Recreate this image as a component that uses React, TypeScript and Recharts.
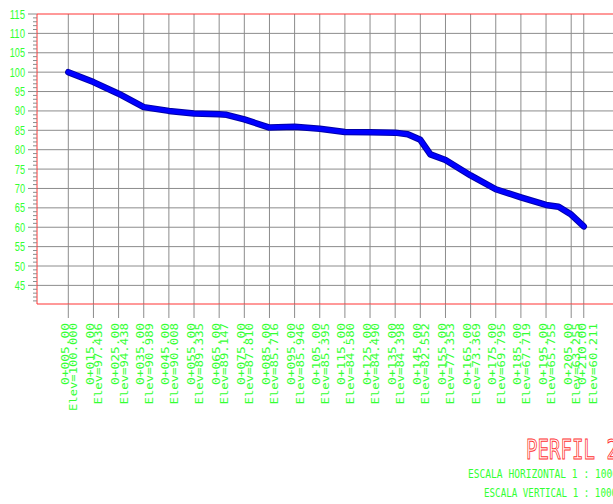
import React from "react";
import { LineChart, Line, XAxis, YAxis, CartesianGrid, ReferenceLine } from "recharts";

// estaciones y cotas rotuladas del perfil
const STATIONS = [5, 15, 25, 35, 45, 55, 65, 75, 85, 95, 105, 115, 125, 135, 145, 155, 165, 175, 185, 195, 205, 210];
const ELEVATIONS = [
  100.0, 97.436, 94.438, 90.989, 90.008, 89.335, 89.147, 87.81, 85.716, 85.946, 85.395,
  84.58, 84.49, 84.398, 82.552, 77.353, 73.369, 69.795, 67.719, 65.755, 63.255, 60.211,
];

// vertices intermedios del terreno (sin rotulo)
const BREAK_STATIONS = [68, 140, 149, 200];
const BREAK_ELEVATIONS = [89.0, 84.0, 78.8, 65.3];

const MAJOR_Y = [45, 50, 55, 60, 65, 70, 75, 80, 85, 90, 95, 100, 105, 110, 115];
const MINOR_Y = [41, 42, 43, 44, 46, 47, 48, 49, 51, 52, 53, 54, 56, 57, 58, 59, 61, 62, 63, 64, 66, 67, 68, 69, 71, 72, 73, 74, 76, 77, 78, 79, 81, 82, 83, 84, 86, 87, 88, 89, 91, 92, 93, 94, 96, 97, 98, 99, 101, 102, 103, 104, 106, 107, 108, 109, 111, 112, 113, 114];

const TITLE = "PERFIL 2";
const SCALE_H = "ESCALA HORIZONTAL 1 : 1000";
const SCALE_V = "ESCALA VERTICAL 1 : 1000";

const GREEN = "#33ff33";
const RED = "#ff3333";
const GRAY = "#8c8c8c";

const profile = [
  ...STATIONS.map((s, i) => ({ station: s, elev: ELEVATIONS[i] })),
  ...BREAK_STATIONS.map((s, i) => ({ station: s, elev: BREAK_ELEVATIONS[i] })),
].sort((a, b) => a.station - b.station);

const yTicks = [...MAJOR_Y, ...MINOR_Y].sort((a, b) => a - b);

const stationText = (s: number) => `0+${String(s).padStart(3, "0")}.00`;

function StationTick(props: any) {
  const { x, y, payload } = props;
  const idx = STATIONS.indexOf(payload.value);
  const elev = idx >= 0 ? ELEVATIONS[idx] : 0;
  const a = stationText(payload.value);
  const b = `Elev=${elev.toFixed(3)}`;
  const top = y + 19;
  // el ultimo rotulo va desplazado para no pisar al anterior
  const last = idx === STATIONS.length - 1;
  const xa = x + (last ? 2.7 : 0.5);
  const xb = x + (last ? 13.7 : 9);
  const txt = (s: string, tx: number) => (
    <text
      transform={`rotate(-90, ${tx}, ${top})`}
      x={tx}
      y={top}
      textAnchor="end"
      fill={GREEN}
      fontSize={10.5}
      fontFamily="DejaVu Sans Mono, monospace"
      textLength={6.5 * s.length + 10}
      lengthAdjust="spacingAndGlyphs"
    >
      {s}
    </text>
  );
  return (
    <g>
      <line x1={x} y1={y} x2={x} y2={y + 14} stroke={GRAY} strokeWidth={1} />
      {txt(a, xa)}
      {txt(b, xb)}
    </g>
  );
}

function ElevTick(props: any) {
  const { x, y, payload } = props;
  const v = payload.value as number;
  const major = v % 5 === 0;
  if (!major) {
    return <line x1={x - 4} y1={y} x2={x} y2={y} stroke={GRAY} strokeWidth={1} />;
  }
  const label = String(v);
  return (
    <g>
      <line x1={x - 9} y1={y} x2={x} y2={y} stroke={GRAY} strokeWidth={1} />
      <text
        x={x - 12}
        y={y + 4.5}
        textAnchor="end"
        fill={GREEN}
        fontSize={12.5}
        fontFamily="Liberation Sans, Arial, sans-serif"
        textLength={5.1 * label.length}
        lengthAdjust="spacingAndGlyphs"
      >
        {label}
      </text>
    </g>
  );
}

export default function App() {
  return (
    <div style={{ position: "absolute", left: 0, top: 0, width: 613, height: 504, overflow: "hidden", background: "#fff" }}>
      <LineChart width={630} height={504} data={profile} margin={{ top: 14, right: 5, bottom: 0, left: 0 }}>
        <CartesianGrid
          stroke={GRAY}
          strokeWidth={1}
          horizontalValues={MAJOR_Y.filter((v) => v < 115)}
          verticalValues={STATIONS}
        />
        <XAxis
          dataKey="station"
          type="number"
          domain={[-7.45, 226.4]}
          ticks={STATIONS}
          interval={0}
          height={200}
          tickSize={0}
          tickMargin={0}
          tickLine={false}
          axisLine={{ stroke: RED, strokeWidth: 1 }}
          tick={(p: any) => <StationTick {...p} />}
        />
        <YAxis
          type="number"
          domain={[40.2, 115]}
          ticks={yTicks}
          interval={0}
          width={37}
          tickSize={0}
          tickMargin={0}
          tickLine={false}
          axisLine={{ stroke: RED, strokeWidth: 1 }}
          tick={(p: any) => <ElevTick {...p} />}
        />
        <ReferenceLine y={115} stroke={RED} strokeWidth={1} />
        <Line
          key="outline"
          dataKey="elev"
          type="linear"
          stroke="#0000a8"
          strokeWidth={6.5}
          strokeLinejoin="round"
          strokeLinecap="round"
          dot={false}
          isAnimationActive={false}
        />
        <Line
          key="fill"
          dataKey="elev"
          type="linear"
          stroke="#0000ff"
          strokeWidth={4.5}
          strokeLinejoin="round"
          strokeLinecap="round"
          dot={false}
          isAnimationActive={false}
        />
      </LineChart>
      <svg width={613} height={504} style={{ position: "absolute", left: 0, top: 0, pointerEvents: "none" }}>
        <text
          x={526}
          y={459}
          fill="none"
          stroke={RED}
          strokeWidth={1}
          fontSize={27}
          fontFamily="DejaVu Sans Mono, monospace"
          textLength={92}
          lengthAdjust="spacingAndGlyphs"
        >
          {TITLE}
        </text>
        <text
          x={468}
          y={478}
          fill={GREEN}
          fontSize={12}
          fontFamily="DejaVu Sans Mono, monospace"
          textLength={150}
          lengthAdjust="spacingAndGlyphs"
        >
          {SCALE_H}
        </text>
        <text
          x={484}
          y={497}
          fill={GREEN}
          fontSize={12}
          fontFamily="DejaVu Sans Mono, monospace"
          textLength={133}
          lengthAdjust="spacingAndGlyphs"
        >
          {SCALE_V}
        </text>
      </svg>
    </div>
  );
}
